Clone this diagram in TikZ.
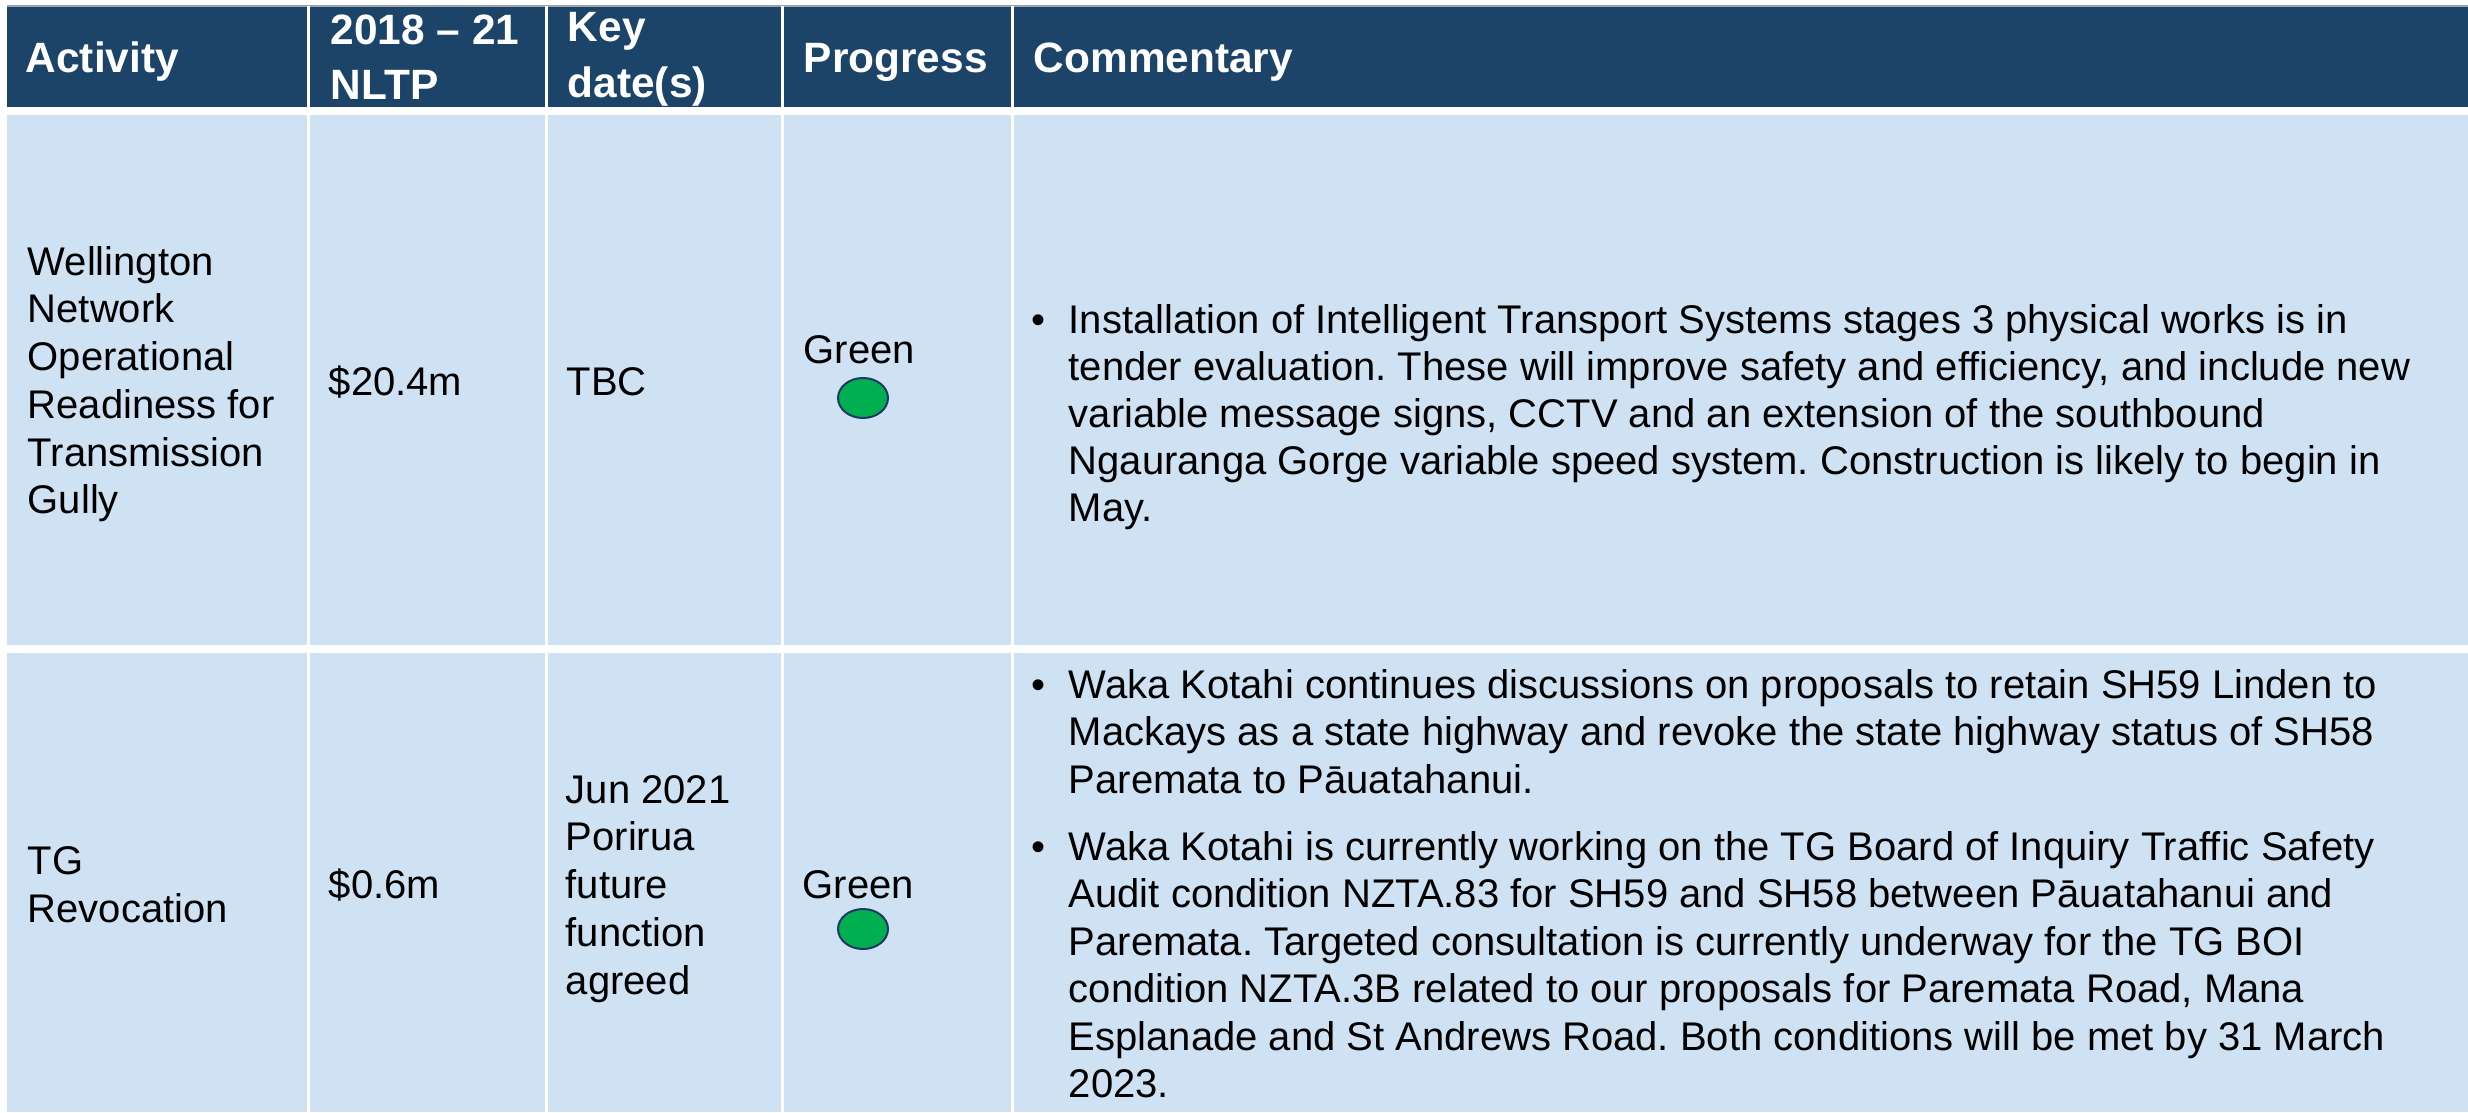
\documentclass[tikz,border=0pt]{standalone}
\usepackage{fontspec}
\setmainfont{Liberation Sans}
\usetikzlibrary{shapes.geometric}
\frenchspacing
\definecolor{hdr}{HTML}{1C4469}
\definecolor{cell}{HTML}{CFE2F3}
\definecolor{okgreen}{HTML}{00B050}
\definecolor{okline}{HTML}{1F3864}
\definecolor{topline}{HTML}{9AA4AE}
\begin{document}
\frenchspacing
\begin{tikzpicture}[x=0.25pt,y=-0.25pt,
  txt/.style={anchor=base west,inner sep=0pt,font=\fontsize{10pt}{12pt}\selectfont},
  hd/.style={anchor=base west,inner sep=0pt,text=white,font=\fontsize{10.6pt}{12.5pt}\selectfont\bfseries},
  status/.style={ellipse,draw=okline,fill=okgreen,line width=0.5pt,minimum width=12.5pt,minimum height=10pt,inner sep=0pt},
  sep/.style={white,line width=0.75pt}]
\useasboundingbox (0,0) rectangle (2468,1112);
\fill[white] (0,0) rectangle (2468,1112);
% backgrounds
\fill[hdr] (7,6) rectangle (2468,107);
\draw[topline,line width=0.4pt] (7,6) -- (2468,6);
\fill[cell] (7,115) rectangle (2468,645);
\fill[cell] (7,653) rectangle (2468,1112);
% column separators
\foreach \cx in {308,546,782,1012} \draw[sep] (\cx,6) -- (\cx,1112);
% header
\node[hd] (h1) at (25,73) {Activity};
\node[hd] (h2a) at (330,45) {2018 – 21};
\node[hd] (h2b) at (330,100) {NLTP};
\node[hd] (h3a) at (567,42) {Key};
\node[hd] (h3b) at (567,98) {date(s)};
\node[hd] (h4) at (803,73) {Progress};
\node[hd] (h5) at (1033,73) {Commentary};
% row 1
\foreach \t [count=\i] in {Wellington,Network,Operational,Readiness for,Transmission,Gully}
  \node[txt] (a1\i) at (27,{275+47.75*(\i-1)}) {\t};
\node[txt] (b1) at (328,395) {\$20.4m};
\node[txt] (k1) at (566,395) {TBC};
\node[txt] (p1) at (803,363) {Green};
\node[status] (s1) at (863,398) {};
\node[txt] (u1) at (1031,333) {•};
\foreach \t [count=\i] in {%
  Installation of Intelligent Transport Systems stages 3 physical works is in,
  {tender evaluation. These will improve safety and efficiency, and include new},
  {variable message signs, CCTV and an extension of the southbound},
  Ngauranga Gorge variable speed system. Construction is likely to begin in,
  May.}
  \node[txt] (c1\i) at (1068,{333+47*(\i-1)}) {\t};
% row 2
\node[txt] (a2a) at (27,874) {TG};
\node[txt] (a2b) at (27,922) {Revocation};
\node[txt] (b2) at (328,898) {\$0.6m};
\foreach \t [count=\i] in {Jun 2021,Porirua,future,function,agreed}
  \node[txt] (k2\i) at (565,{803+47.75*(\i-1)}) {\t};
\node[txt] (p2) at (802,898) {Green};
\node[status] (s2) at (863,929) {};
\node[txt] (u2a) at (1031,698) {•};
\foreach \t [count=\i] in {%
  Waka Kotahi continues discussions on proposals to retain SH59 Linden to,
  Mackays as a state highway and revoke the state highway status of SH58,
  Paremata to Pāuatahanui.}
  \node[txt] (c2\i) at (1068,{698+47.5*(\i-1)}) {\t};
\node[txt] (u2b) at (1031,860) {•};
\foreach \t [count=\i] in {%
  Waka Kotahi is currently working on the TG Board of Inquiry Traffic Safety,
  Audit condition NZTA.83 for SH59 and SH58 between Pāuatahanui and,
  Paremata. Targeted consultation is currently underway for the TG BOI,
  {condition NZTA.3B related to our proposals for Paremata Road, Mana},
  Esplanade and St Andrews Road. Both conditions will be met by 31 March,
  2023.}
  \node[txt] (d2\i) at (1068,{860+47.5*(\i-1)}) {\t};
\end{tikzpicture}
\end{document}
